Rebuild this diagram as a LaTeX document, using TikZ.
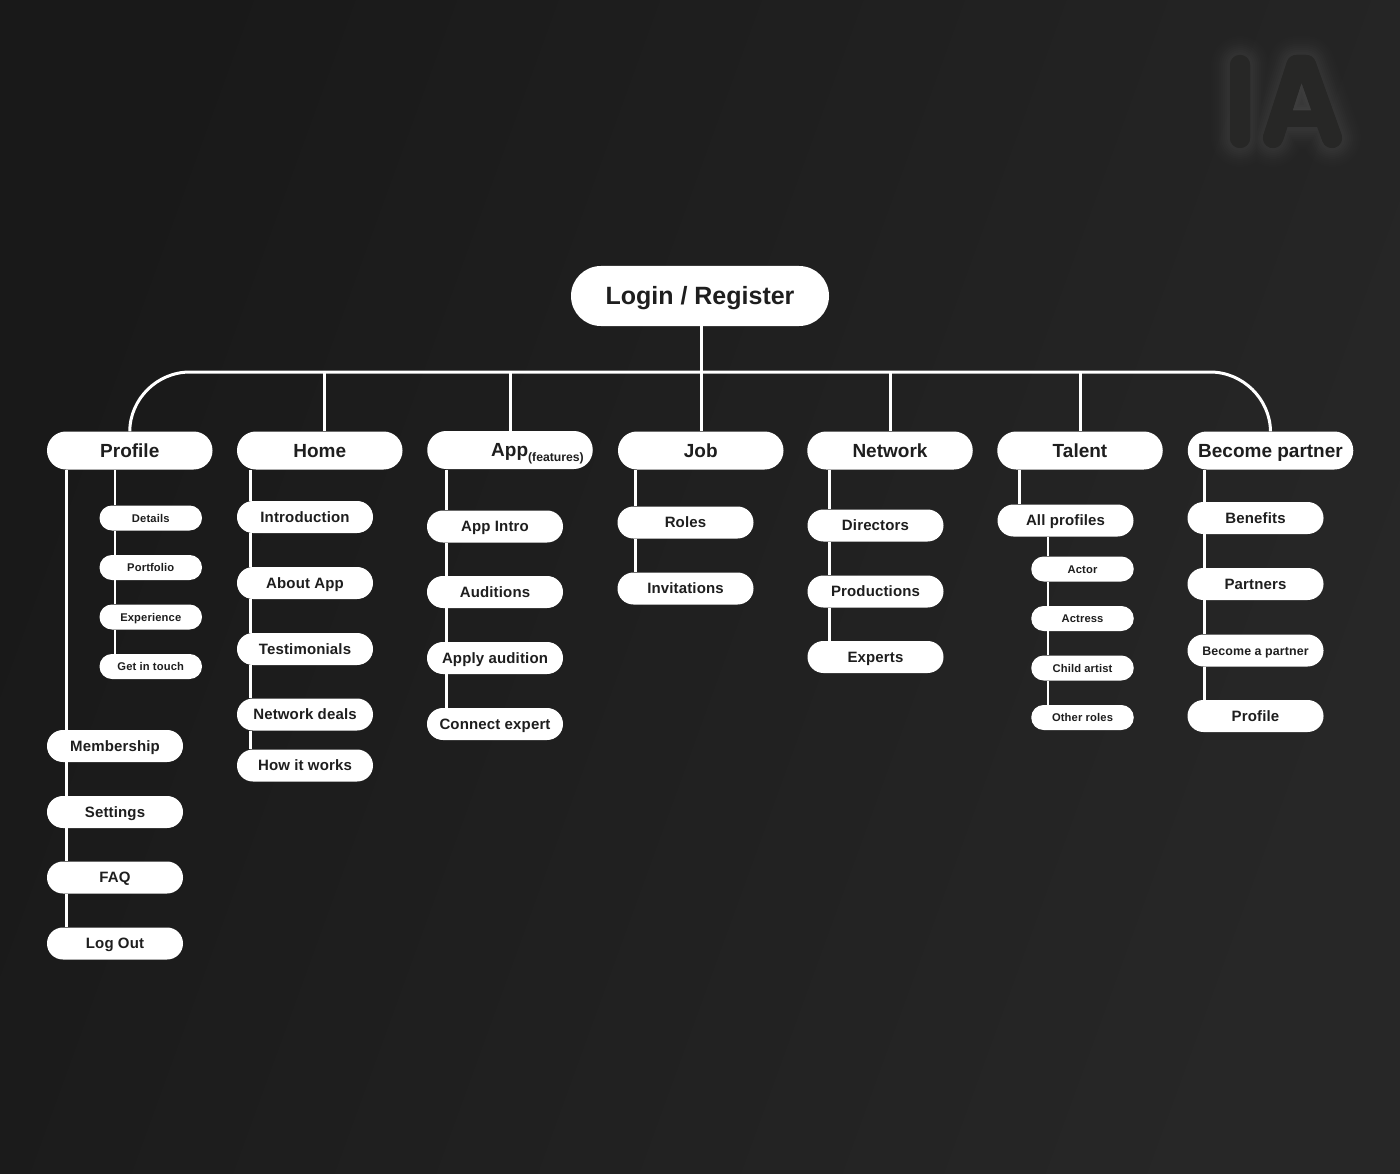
\documentclass[tikz,border=0pt]{standalone}
\usepackage{fontspec}
\usepackage{graphicx}
\setmainfont{Liberation Sans}
\newfontfamily\rootfont{Liberation Sans Bold}[LetterSpace=0]
\newfontfamily\topfont{Liberation Sans Bold}[LetterSpace=0]
\newfontfamily\midfont{Liberation Sans Bold}[LetterSpace=1]
\newfontfamily\smallfont{Liberation Sans Bold}[LetterSpace=1.2]
\definecolor{ink}{HTML}{1E1E1E}
\definecolor{bgl}{HTML}{191919}
\definecolor{bgr}{HTML}{272727}
\definecolor{iacol}{HTML}{272726}
\tikzset{
  x=1pt,y=-1pt,
  pill/.style={fill=white,text=ink,inner sep=0pt,align=center,text depth=0pt},
  rootpill/.style={pill,minimum width=258pt,minimum height=60pt,rounded corners=29.9pt,text height=18pt,font=\rootfont\fontsize{25}{28}\selectfont},
  toppill/.style={pill,minimum width=165.5pt,minimum height=38pt,rounded corners=18.9pt,text height=13.6pt,font=\topfont\fontsize{19}{22}\selectfont},
  midpill/.style={pill,minimum width=136pt,minimum height=32pt,rounded corners=15.9pt,text height=10.8pt,font=\midfont\fontsize{15}{18}\selectfont},
  smallpill/.style={pill,minimum width=102.5pt,minimum height=25pt,rounded corners=12.4pt,text height=8pt,font=\smallfont\fontsize{11.2}{14}\selectfont},
  link/.style={draw=white,line width=3pt},
  sublink/.style={draw=white,line width=2pt},
}
\newcommand{\iashape}{(1240,65) -- (1240,138) (1273,138) -- (1296.5,65) -- (1306,65) -- (1332,138) (1283,120) -- (1321,120)}
\begin{document}
\begin{tikzpicture}
\useasboundingbox (0,0) rectangle (1400,1174);
\shade[left color=bgl,right color=bgr,shading angle=70] (0,0) rectangle (1400,1174);

% IA mark: glow, strokes and text
\foreach \w/\o in {62/.005,58/.006,54/.007,50/.008,46/.009,42/.01,38/.011,34/.012,30/.013,26/.013,22/.013}{
  \path[draw=white,draw opacity=\o,line width=\w pt,line cap=round,line join=round] \iashape;
}
\path[fill=white,fill opacity=.05] (1285,116) -- (1301,70) -- (1318,116) -- cycle;
\path[draw=iacol,line width=20.5pt,line cap=round,line join=round] (1240,65) -- (1240,138) (1273,138) -- (1296.5,65) -- (1306,65) -- (1332,138);
\path[draw=iacol,line width=14pt] (1283,120) -- (1321,120);
\node[text=iacol,inner sep=0pt,font=\fontsize{112}{112}\selectfont,anchor=base] (ia) at (1280,142) {\scalebox{.8}[1]{I\kern 30ptA}};

% pills
\node[rootpill] (login) at (700,296) {Login / Register};
\node[toppill] (profile) at (129.75,450.5) {Profile};
\node[toppill] (home) at (319.75,450.5) {Home};
\node[toppill] (app) at (510,450) {\hspace*{55pt}App\raisebox{-4.5pt}{\fontsize{12.2}{15}\selectfont(features)}};
\node[toppill] (job) at (700.75,450.5) {Job};
\node[toppill] (network) at (890,450.5) {Network};
\node[toppill] (talent) at (1080,450.5) {Talent};
\node[toppill] (partner) at (1270.5,450.5) {Become partner};

\node[smallpill] (details) at (150.75,518) {Details};
\node[smallpill] (portfolio) at (150.75,567.5) {Portfolio};
\node[smallpill] (experience) at (150.75,617) {Experience};
\node[smallpill] (touch) at (150.75,666.5) {Get in touch};
\node[midpill] (membership) at (115,746) {Membership};
\node[midpill] (settings) at (115,812) {Settings};
\node[midpill] (faq) at (115,877.5) {FAQ};
\node[midpill] (logout) at (115,943.5) {Log Out};

\node[midpill] (intro) at (305,517) {Introduction};
\node[midpill] (about) at (305,583) {About App};
\node[midpill] (testi) at (305,649) {Testimonials};
\node[midpill] (deals) at (305,714.5) {Network deals};
\node[midpill] (how) at (305,765.5) {How it works};

\node[midpill] (appintro) at (495,526.5) {App Intro};
\node[midpill] (auditions) at (495,592) {Auditions};
\node[midpill] (apply) at (495,658) {Apply audition};
\node[midpill] (connect) at (495,724) {Connect expert};

\node[midpill] (roles) at (685.5,522.5) {Roles};
\node[midpill] (invite) at (685.5,588.5) {Invitations};

\node[midpill] (directors) at (875.5,525.5) {Directors};
\node[midpill] (productions) at (875.5,591.5) {Productions};
\node[midpill] (experts) at (875.5,657) {Experts};

\node[midpill] (allprof) at (1065.5,520.5) {All profiles};
\node[smallpill] (actor) at (1082.5,569) {Actor};
\node[smallpill] (actress) at (1082.5,618.5) {Actress};
\node[smallpill] (child) at (1082.5,668) {Child artist};
\node[smallpill] (other) at (1082.5,717.5) {Other roles};

\node[midpill] (benefits) at (1255.5,518) {Benefits};
\node[midpill] (partners) at (1255.5,584) {Partners};
\node[midpill,text height=9.4pt,font=\midfont\fontsize{12.4}{16}\selectfont] (becomea) at (1255.5,650.5) {Become a partner};
\node[midpill] (pprofile) at (1255.5,716) {Profile};

% bus coordinates
\coordinate (bhome) at (324,372);
\coordinate (bapp) at (510,372);
\coordinate (bjob) at (701,372);
\coordinate (bnet) at (890,372);
\coordinate (btal) at (1080,372);
\coordinate (tprofile) at (66,470);
\coordinate (tsub) at (115,470);
\coordinate (thome) at (250,470);
\coordinate (tapp) at (446,470);
\coordinate (tjob) at (635,470);
\coordinate (tnet) at (829,470);
\coordinate (ttal) at (1019,470);
\coordinate (tall) at (1048,537);
\coordinate (tpar) at (1204,470);

% connectors
\draw[link] (profile.north) .. controls (130,399) and (157,372) .. (190,372) -- (1210,372) .. controls (1243,372) and (1270,399) .. (partner.north);
\draw[link] (bjob) -- (bjob |- login.south);
\draw[link] (bhome) -- (bhome |- home.north);
\draw[link] (bapp) -- (bapp |- app.north);
\draw[link] (bjob) -- (bjob |- job.north);
\draw[link] (bnet) -- (bnet |- network.north);
\draw[link] (btal) -- (btal |- talent.north);
\draw[link] (tprofile) -- (tprofile |- membership.north) (tprofile |- membership.south) -- (tprofile |- settings.north) (tprofile |- settings.south) -- (tprofile |- faq.north) (tprofile |- faq.south) -- (tprofile |- logout.north);
\draw[sublink] (tsub) -- (tsub |- details.north) (tsub |- details.south) -- (tsub |- portfolio.north) (tsub |- portfolio.south) -- (tsub |- experience.north) (tsub |- experience.south) -- (tsub |- touch.north);
\draw[link] (thome) -- (thome |- intro.north) (thome |- intro.south) -- (thome |- about.north) (thome |- about.south) -- (thome |- testi.north) (thome |- testi.south) -- (thome |- deals.north) (thome |- deals.south) -- (thome |- how.north);
\draw[link] (tapp) -- (tapp |- appintro.north) (tapp |- appintro.south) -- (tapp |- auditions.north) (tapp |- auditions.south) -- (tapp |- apply.north) (tapp |- apply.south) -- (tapp |- connect.north);
\draw[link] (tjob) -- (tjob |- roles.north) (tjob |- roles.south) -- (tjob |- invite.north);
\draw[link] (tnet) -- (tnet |- directors.north) (tnet |- directors.south) -- (tnet |- productions.north) (tnet |- productions.south) -- (tnet |- experts.north);
\draw[link] (ttal) -- (ttal |- allprof.north);
\draw[sublink] (tall) -- (tall |- actor.north) (tall |- actor.south) -- (tall |- actress.north) (tall |- actress.south) -- (tall |- child.north) (tall |- child.south) -- (tall |- other.north);
\draw[link] (tpar) -- (tpar |- benefits.north) (tpar |- benefits.south) -- (tpar |- partners.north) (tpar |- partners.south) -- (tpar |- becomea.north) (tpar |- becomea.south) -- (tpar |- pprofile.north);
\end{tikzpicture}
\end{document}
